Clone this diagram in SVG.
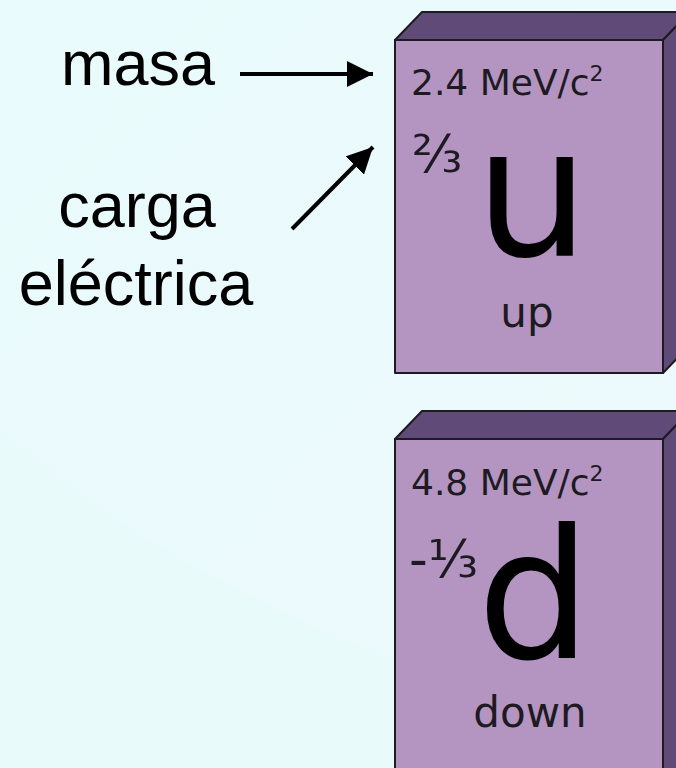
<svg xmlns="http://www.w3.org/2000/svg" width="676" height="768" viewBox="0 0 676 768">
<defs>
<style>
.front{fill:#b495c2;stroke:#1e1a22;stroke-width:2;stroke-linejoin:round}
.dark{fill:#5f4a78;stroke:#1e1a22;stroke-width:2;stroke-linejoin:round}
.mass{font-family:"DejaVu Sans",sans-serif;font-size:36px;fill:#1e1a22}
.sym{font-family:"DejaVu Sans",sans-serif;font-size:180px;fill:#000}
.frac{font-family:"DejaVu Sans",sans-serif;font-size:52px;fill:#1e1a22}
.name{font-family:"DejaVu Sans",sans-serif;font-size:42px;fill:#1e1a22;text-anchor:middle}
.lbl{font-family:"Liberation Sans",Arial,sans-serif;font-size:63px;fill:#000;text-anchor:middle}
.conn{stroke:#000;stroke-width:4;fill:none}
</style>
<marker id="ah" viewBox="0 0 10 10" refX="10" refY="5" markerWidth="6.5" markerHeight="6.5" markerUnits="strokeWidth" orient="auto">
<path d="M0,0 L10,5 L0,10 z" fill="#000"/>
</marker>
<linearGradient id="bg" x1="0" y1="0" x2="1" y2="1">
<stop offset="0" stop-color="#e9fbfc"/>
<stop offset="1" stop-color="#edf9fc"/>
</linearGradient>
</defs>
<rect width="676" height="768" fill="url(#bg)"/>
<path d="M0,430 Q250,650 676,740 L676,768 L0,768 Z" fill="#e8fafa" opacity="0.6"/>

<g id="labels">
<text class="lbl" x="138" y="85">masa</text>
<text class="lbl" x="137" y="227">carga</text>
<text class="lbl" x="136" y="305">eléctrica</text>
</g>

<g id="connectors">
<line class="conn" x1="240" y1="74" x2="373" y2="74" marker-end="url(#ah)"/>
<line class="conn" x1="292" y1="229" x2="373" y2="147" marker-end="url(#ah)"/>
</g>

<g id="quark-up">
<polygon class="dark" points="395,40 422,12 690,12 663,40"/>
<polygon class="dark" points="663,40 690,12 690,345 663,373"/>
<rect class="front" x="395" y="40" width="268" height="333"/>
<text class="mass" x="411" y="95">2.4 MeV/c<tspan font-size="22" dy="-14">2</tspan></text>
<text class="frac" x="412" y="172">⅔</text>
<text class="sym" x="475" y="255">u</text>
<text class="name" x="527" y="327">up</text>
</g>

<g id="quark-down">
<polygon class="dark" points="395,439 422,411 690,411 663,439"/>
<polygon class="dark" points="663,439 690,411 690,780 663,780"/>
<rect class="front" x="395" y="439" width="268" height="340"/>
<text class="mass" x="411" y="495">4.8 MeV/c<tspan font-size="22" dy="-14">2</tspan></text>
<text class="frac" x="409" y="577">-⅓</text>
<text class="sym" x="477" y="658">d</text>
<text class="name" x="530" y="727">down</text>
</g>
</svg>
